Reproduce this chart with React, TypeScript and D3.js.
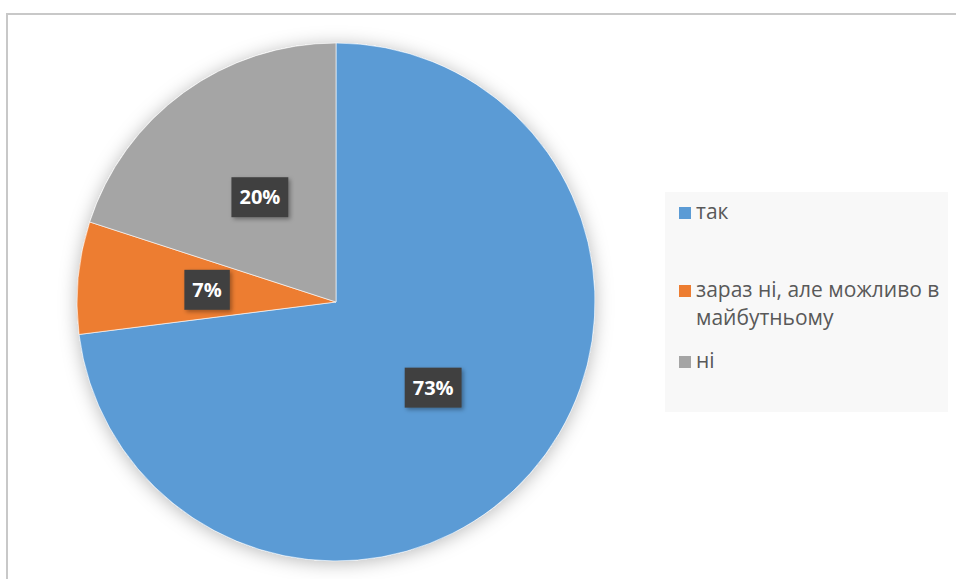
import React from "react";
import * as d3 from "d3";

const categories = ["так", "зараз ні, але можливо в майбутньому", "ні"];
const legendLines = [["так"], ["зараз ні, але можливо в", "майбутньому"], ["ні"]];
const values = [73, 7, 20];
const labels = ["73%", "7%", "20%"];
const colors = ["#5b9bd5", "#ed7d31", "#a5a5a5"];

const W = 956;
const H = 579;
const cx = 336;
const cy = 302;
const R = 259;
const labelFont = "bold 20px 'Open Sans', 'Noto Sans', sans-serif";

function measure(text: string, font: string): number {
  if (typeof document === "undefined") return text.length * 12;
  const c = document.createElement("canvas").getContext("2d");
  if (!c) return text.length * 12;
  c.font = font;
  return c.measureText(text).width;
}

export default function App() {
  const pie = d3.pie<number>().sort(null).value((d) => d);
  const arcs = pie(values);
  const arc = d3.arc<d3.PieArcDatum<number>>().innerRadius(0).outerRadius(R);
  const labelArc = d3.arc<d3.PieArcDatum<number>>().innerRadius(R * 0.5).outerRadius(R * 0.5);

  const legendX = 679;
  const legendBaselines = [219, 297, 368];

  return (
    <svg width={W} height={H} style={{ position: "absolute", left: 0, top: 0 }}>
      <defs>
        <filter id="pieShadow" x="-20%" y="-20%" width="140%" height="140%">
          <feDropShadow dx="0" dy="2" stdDeviation="9" floodColor="#000" floodOpacity="0.28" />
        </filter>
        <filter id="lblShadow" x="-30%" y="-30%" width="160%" height="160%">
          <feDropShadow dx="2" dy="2" stdDeviation="2" floodColor="#000" floodOpacity="0.35" />
        </filter>
      </defs>
      <rect x={0} y={0} width={W} height={H} fill="#ffffff" />
      <rect x={7} y={14} width={W + 20} height={H + 20} fill="#ffffff" stroke="#c8c8c8" strokeWidth={2} />
      <g transform={`translate(${cx},${cy})`}>
        <circle r={R} fill="#ffffff" filter="url(#pieShadow)" />
        {arcs.map((a, i) => (
          <path key={i} d={arc(a) || ""} fill={colors[i]} stroke="#ffffff" strokeWidth={0.6} />
        ))}
        {arcs.map((a, i) => {
          const [lx, ly] = labelArc.centroid(a);
          const tw = measure(labels[i], labelFont);
          const bw = tw + 16;
          const bh = 40;
          return (
            <g key={"l" + i} transform={`translate(${lx},${ly})`}>
              <rect x={-bw / 2} y={-bh / 2} width={bw} height={bh} fill="#404040" filter="url(#lblShadow)" />
              <text
                x={0}
                y={7}
                textAnchor="middle"
                fill="#ffffff"
                style={{ font: labelFont }}
              >
                {labels[i]}
              </text>
            </g>
          );
        })}
      </g>
      <rect x={665} y={192} width={283} height={220} fill="#f8f8f8" />
      {categories.map((c, i) => (
        <g key={c}>
          <rect x={legendX} y={legendBaselines[i] - 12} width={12} height={12} fill={colors[i]} />
          {legendLines[i].map((ln, j) => (
            <text
              key={j}
              x={legendX + 17}
              y={legendBaselines[i] + j * 28}
              fill="#595959"
              style={{ font: "21px 'Open Sans', 'Noto Sans', sans-serif" }}
            >
              {ln}
            </text>
          ))}
        </g>
      ))}
    </svg>
  );
}
